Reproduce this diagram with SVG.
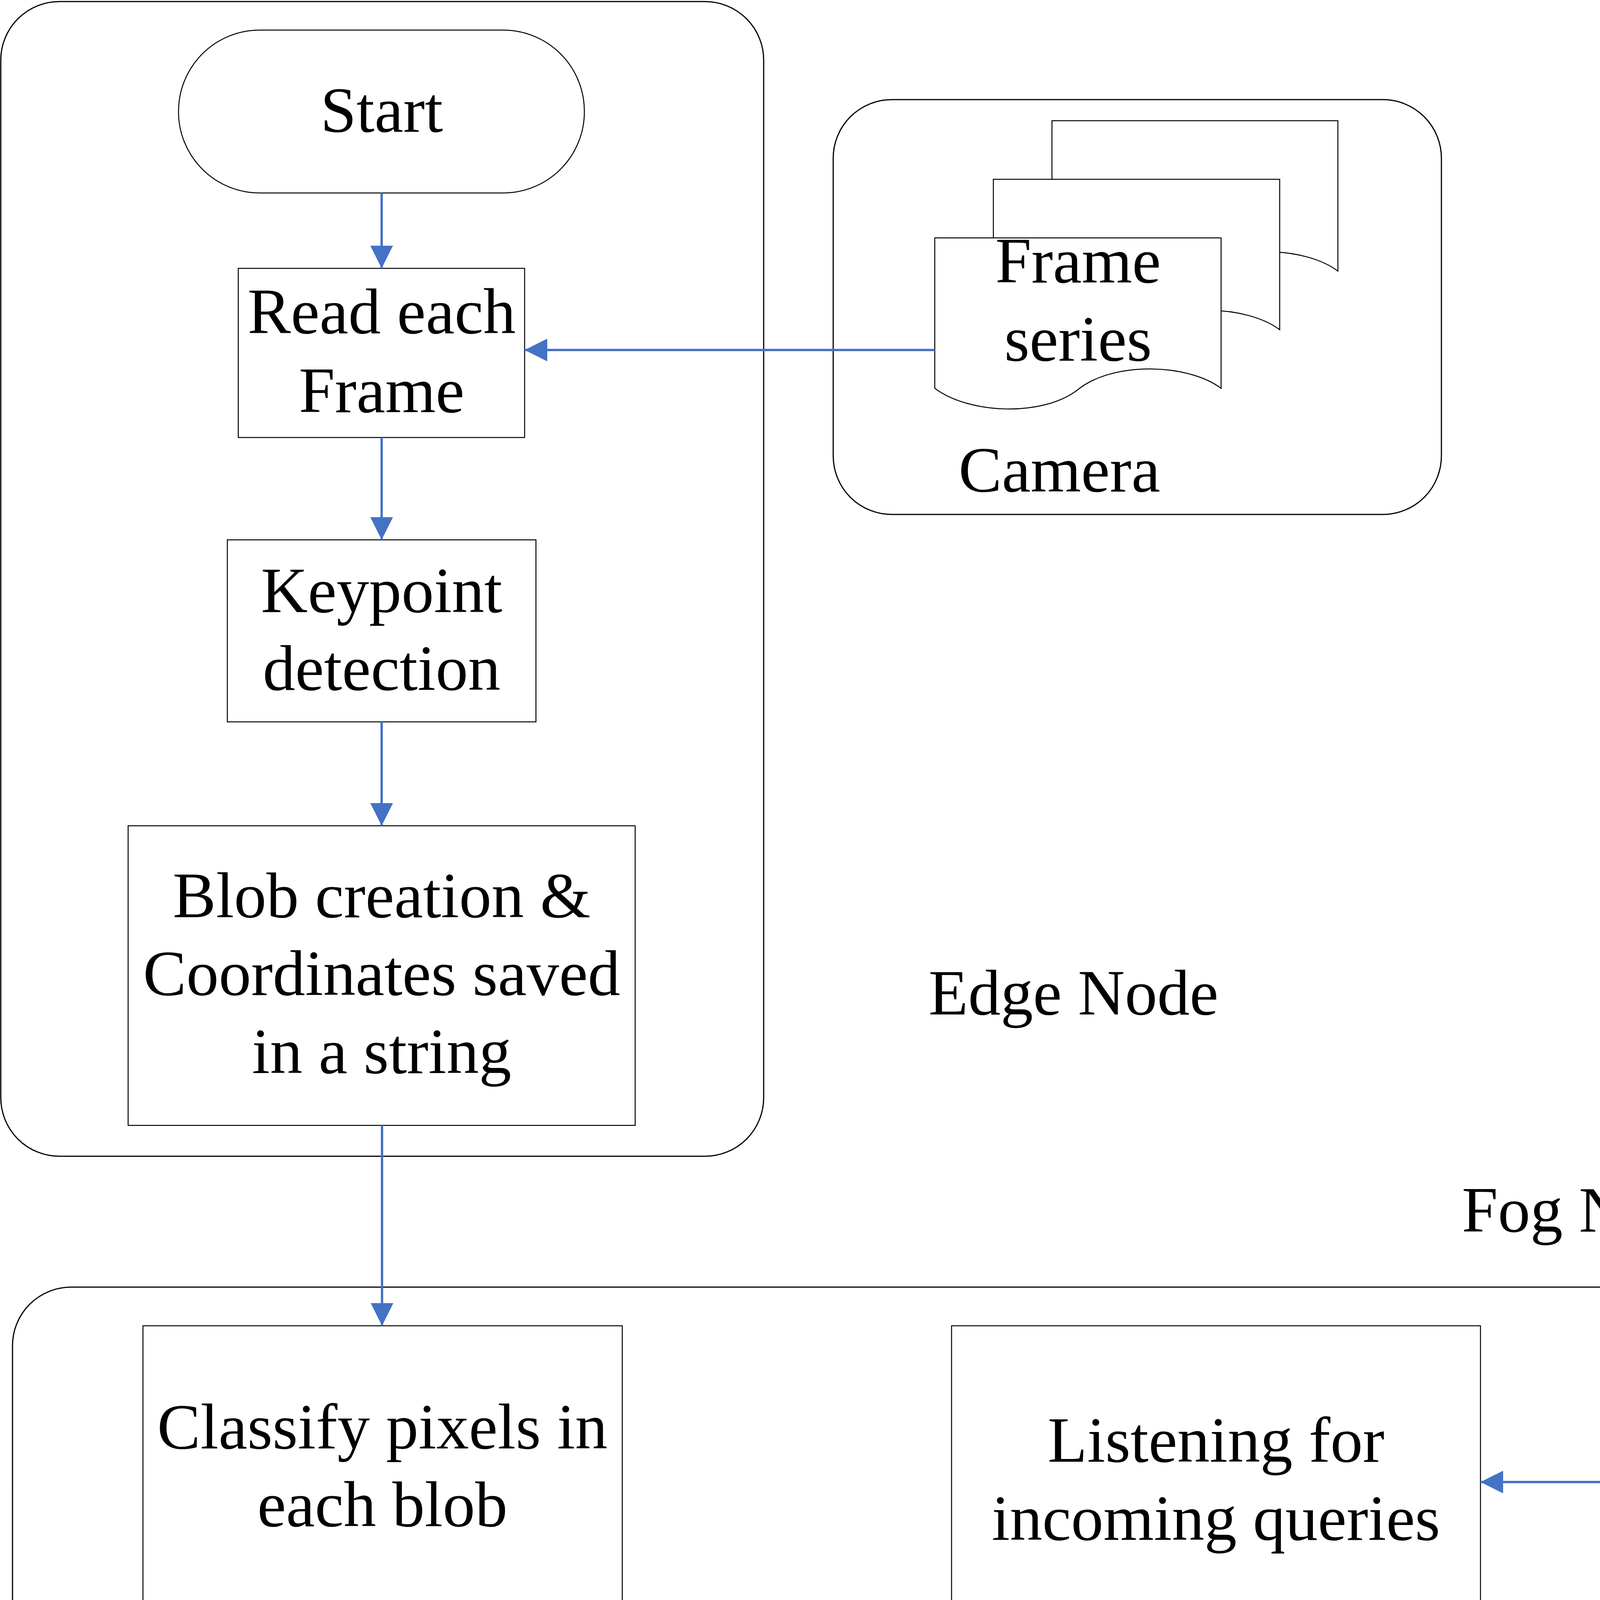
<svg xmlns="http://www.w3.org/2000/svg" width="6381" height="7931" viewBox="0 0 6381 7931">
<style>
.c{fill:none;stroke:#000;stroke-width:3}
.n{fill:#fff;stroke:#000;stroke-width:2.5}
.t{font-family:"Liberation Serif","Times New Roman",serif;font-size:166px;fill:#000;text-anchor:middle}
.s{text-anchor:start}
.e{fill:none;stroke:#4472C4;stroke-width:6}
</style>
<defs>
<marker id="ah" markerUnits="userSpaceOnUse" markerWidth="58" markerHeight="58" refX="58" refY="29" orient="auto">
<path d="M0,0 L58,29 L0,58 Z" fill="#4472C4"/>
</marker>
</defs>
<rect width="6381" height="7931" fill="#fff"/>
<g id="containers">
<rect id="edge-node" class="c" x="2" y="4" width="1953" height="2956" rx="150" ry="150"/>
<rect id="camera" class="c" x="2133" y="255" width="1557" height="1062" rx="150" ry="150"/>
<rect id="fog-node" class="c" x="32" y="3295" width="6346" height="4631" rx="150" ry="150"/>
<text class="t s" x="2377" y="2597">Edge Node</text>
<text class="t" x="4072" y="3153">Fog Node</text>
<text class="t" x="2712" y="1258">Camera</text>
</g>
<g id="frame-series">
<path class="n" d="M2693,309 H3425 V694 C3340,630 3150,625 3060,697 C2970,768 2780,760 2693,694 Z"/>
<path class="n" d="M2543,459 H3276 V844 C3190,780 3000,775 2910,847 C2820,918 2630,910 2543,844 Z"/>
<path class="n" d="M2393,609 H3126 V994 C3040,930 2850,925 2760,997 C2670,1068 2480,1060 2393,994 Z"/>
<text class="t" x="2760" y="723">Frame</text>
<text class="t" x="2760" y="923">series</text>
</g>
<g id="start-edge">
<rect class="n" x="457" y="77" width="1039" height="417" rx="208" ry="208"/>
<text class="t" x="977" y="337">Start</text>
</g>
<g id="read-frame">
<rect class="n" x="610" y="687" width="733" height="433"/>
<text class="t" x="977" y="853">Read each</text>
<text class="t" x="977" y="1055">Frame</text>
</g>
<g id="keypoint">
<rect class="n" x="582" y="1382" width="790" height="466"/>
<text class="t" x="977" y="1567">Keypoint</text>
<text class="t" x="977" y="1766">detection</text>
</g>
<g id="blob">
<rect class="n" x="328" y="2114" width="1298" height="767"/>
<text class="t" x="977" y="2348">Blob creation &amp;</text>
<text class="t" x="977" y="2547">Coordinates saved</text>
<text class="t" x="977" y="2747">in a string</text>
</g>
<g id="classify">
<rect class="n" x="366" y="3394" width="1227" height="724"/>
<text class="t" x="979" y="3708">Classify pixels in</text>
<text class="t" x="979" y="3907">each blob</text>
</g>
<g id="class-center">
<rect class="n" x="428" y="4384" width="1102" height="650"/>
<text class="t" x="979" y="4660">Class center</text>
<text class="t" x="979" y="4859">calculation</text>
</g>
<g id="translating">
<rect class="n" x="303" y="5301" width="1353" height="799"/>
<text class="t" x="979" y="5550">Translating center</text>
<text class="t" x="979" y="5749">RGB to readable</text>
<text class="t" x="979" y="5949">names</text>
</g>
<g id="listening">
<rect class="n" x="2436" y="3394" width="1354" height="799"/>
<text class="t" x="3113" y="3742">Listening for</text>
<text class="t" x="3113" y="3942">incoming queries</text>
</g>
<g id="start-fog">
<rect class="n" x="4634" y="3620" width="859" height="345" rx="172" ry="172"/>
<text class="t" x="5063" y="3847">Start</text>
</g>
<g id="query">
<path class="n" d="M3112,4433 L3724,4800 L3112,5166 L2500,4800 Z"/>
<text class="t" x="3112" y="4750">Query</text>
<text class="t" x="3112" y="4950">received?</text>
</g>
<g id="index">
<rect class="n" x="4451" y="4432" width="1227" height="725"/>
<text class="t" x="5064" y="4745">Index the</text>
<text class="t" x="5064" y="4944">processed frame</text>
</g>
<g id="request">
<rect class="n" x="2588" y="5449" width="1103" height="650"/>
<text class="t" x="3140" y="5626">Request for the</text>
<text class="t" x="3140" y="5825">most recent</text>
<text class="t" x="3140" y="6025">frame</text>
</g>
<g id="match">
<path class="n" d="M3093,6380 L3732,6765 L3093,7148 L2453,6765 Z"/>
<text class="t" x="3093" y="6814">Match query?</text>
</g>
<g id="send">
<rect class="n" x="4446" y="6380" width="1442" height="852"/>
<text class="t" x="5167" y="6755">Send results with the</text>
<text class="t" x="5167" y="6953">frame</text>
</g>
<g id="end">
<rect class="n" x="2641" y="7439" width="907" height="362" rx="181" ry="181"/>
<text class="t" x="3093" y="7668">End</text>
</g>
<g id="connectors">
<line class="e" x1="977" y1="494" x2="977" y2="687" marker-end="url(#ah)"/>
<line class="e" x1="2393" y1="896" x2="1343" y2="896" marker-end="url(#ah)"/>
<line class="e" x1="977" y1="1120" x2="977" y2="1382" marker-end="url(#ah)"/>
<line class="e" x1="977" y1="1848" x2="977" y2="2114" marker-end="url(#ah)"/>
<line class="e" x1="978" y1="2881" x2="978" y2="3394" marker-end="url(#ah)"/>
<line class="e" x1="979" y1="4118" x2="979" y2="4384" marker-end="url(#ah)"/>
<line class="e" x1="979" y1="5034" x2="979" y2="5301" marker-end="url(#ah)"/>
<line class="e" x1="4634" y1="3794" x2="3790" y2="3794" marker-end="url(#ah)"/>
<line class="e" x1="3113" y1="4193" x2="3113" y2="4433" marker-end="url(#ah)"/>
<line class="e" x1="3724" y1="4800" x2="4451" y2="4800" marker-end="url(#ah)"/>
<line class="e" x1="3112" y1="5166" x2="3112" y2="5449" marker-end="url(#ah)"/>
<line class="e" x1="1656" y1="5775" x2="2588" y2="5775" marker-end="url(#ah)"/>
<line class="e" x1="3093" y1="6099" x2="3093" y2="6380" marker-end="url(#ah)"/>
<line class="e" x1="3732" y1="6765" x2="4446" y2="6765" marker-end="url(#ah)"/>
<line class="e" x1="3093" y1="7148" x2="3093" y2="7439" marker-end="url(#ah)"/>
<text class="t" x="3997" y="4742">No</text>
<text class="t s" x="3173" y="5400">Yes</text>
<text class="t" x="4093" y="6666">Yes</text>
<text class="t s" x="3208" y="7335">No</text>
</g>
</svg>
